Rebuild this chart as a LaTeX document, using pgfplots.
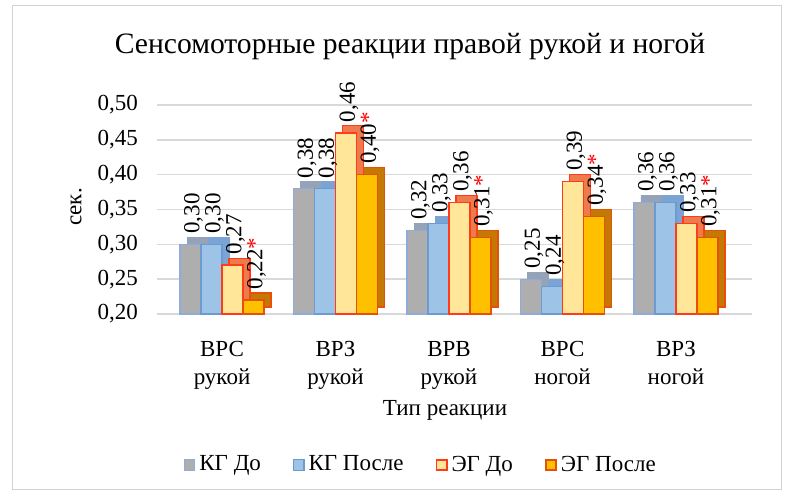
\documentclass[border=0pt]{standalone}
\usepackage{pgfplots}
\pgfplotsset{compat=1.18}
\usepackage{fontspec}
\setmainfont{Liberation Serif}
\definecolor{kgdo}{HTML}{AEAEAE}
\definecolor{kgdoE}{HTML}{8FAADC}
\definecolor{kgdoD}{HTML}{95A3B8}
\definecolor{kgpo}{HTML}{9DC3E6}
\definecolor{kgpoE}{HTML}{6C9BD2}
\definecolor{kgpoD}{HTML}{7BA3D4}
\definecolor{egdo}{HTML}{FFE699}
\definecolor{egdoE}{HTML}{FF3B1A}
\definecolor{egdoD}{HTML}{EE7B4E}
\definecolor{egpo}{HTML}{FFC000}
\definecolor{egpoE}{HTML}{E8500A}
\definecolor{egpoD}{HTML}{C27A05}
\definecolor{gridc}{HTML}{D9D9D9}
\pgfplotstableread{
x kgdo kgpo egdo egpo
0 0.30 0.30 0.27 0.22
1 0.38 0.38 0.46 0.40
2 0.32 0.33 0.36 0.31
3 0.25 0.24 0.39 0.34
4 0.36 0.36 0.33 0.31
}\datatable
\begin{document}
\begin{tikzpicture}
\useasboundingbox (0,0) rectangle (396pt,247.5pt);
\draw[gray!35, line width=0.4pt] (6pt,3pt) rectangle (390.5pt,245pt);
\begin{axis}[
  at={(78.5pt,90.5pt)}, anchor=south west,
  scale only axis, width=297.5pt, height=104.5pt,
  ybar=0pt, bar width=10.5pt,
  ymin=0.2, ymax=0.5,
  ytick={0.2,0.25,...,0.51},
  xmin=-0.573, xmax=4.67,
  xtick={0,1,2,3,4},
  xticklabels={{ВРС\\[1pt]рукой},{ВРЗ\\[1pt]рукой},{ВРВ\\[1pt]рукой},{ВРС\\[1pt]ногой},{ВРЗ\\[1pt]ногой}},
  xticklabel style={align=center, font=\fontsize{11.5}{13}\selectfont, yshift=-10pt},
  yticklabel style={font=\fontsize{11.5}{13}\selectfont, xshift=-6pt, /pgf/number format/.cd, fixed, fixed zerofill, precision=2, use comma},
  /pgf/number format/assume math mode=true,
  axis line style={draw=none},
  major tick length=0pt,
  ymajorgrids, grid style={gridc, line width=0.8pt},
  clip=false,
  every node near coord/.append style={rotate=90, anchor=west, font=\fontsize{11.5}{13}\selectfont, inner sep=1pt, xshift=4pt, yshift=-1.5pt,
     /pgf/number format/.cd, fixed, fixed zerofill, precision=2, use comma},
  legend style={at={(0.445,-0.722)}, anchor=center, draw=none, legend columns=4,
     font=\fontsize{11.5}{13}\selectfont,
     /tikz/every even column/.append style={column sep=14pt}},
  legend image code/.code={\draw[#1] (1pt,-2.6pt) rectangle (6.2pt,2.6pt);},
]
% series 1
\addplot[forget plot, fill=kgdoD, draw=kgdoD, bar shift=-12.25pt, yshift=3.5pt] table[x=x,y=kgdo] {\datatable};
\addplot[fill=kgdo, draw=kgdoE, line width=0.6pt, bar shift=-15.75pt, nodes near coords] table[x=x,y=kgdo] {\datatable};
% series 2
\addplot[forget plot, fill=kgpoD, draw=kgpoD, bar shift=-1.75pt, yshift=3.5pt] table[x=x,y=kgpo] {\datatable};
\addplot[fill=kgpo, draw=kgpoE, line width=0.6pt, bar shift=-5.25pt, nodes near coords] table[x=x,y=kgpo] {\datatable};
% series 3
\addplot[forget plot, fill=egdoD, draw=egdoE, line width=0.6pt, bar shift=8.75pt, yshift=3.5pt] table[x=x,y=egdo] {\datatable};
\addplot[fill=egdo, draw=egdoE, line width=0.8pt, bar shift=5.25pt, nodes near coords] table[x=x,y=egdo] {\datatable};
% series 4
\addplot[forget plot, fill=egpoD, draw=egpoE, line width=0.6pt, bar shift=19.25pt, yshift=3.5pt] table[x=x,y=egpo] {\datatable};
\addplot[fill=egpo, draw=egpoE, line width=0.8pt, bar shift=15.75pt,
   nodes near coords={\pgfmathprintnumber{\pgfplotspointmeta}\textcolor{red}{*}}] table[x=x,y=egpo] {\datatable};
\legend{КГ До, КГ После, ЭГ До, ЭГ После}
\end{axis}
\node[font=\fontsize{14.8}{16}\selectfont] at (205pt,224pt) {Сенсомоторные реакции правой рукой и ногой};
\node[font=\fontsize{11.5}{13}\selectfont, rotate=90] at (38pt,144pt) {сек.};
\node[font=\fontsize{11.5}{13}\selectfont] at (222.5pt,42.5pt) {Тип реакции};
\end{tikzpicture}
\end{document}
